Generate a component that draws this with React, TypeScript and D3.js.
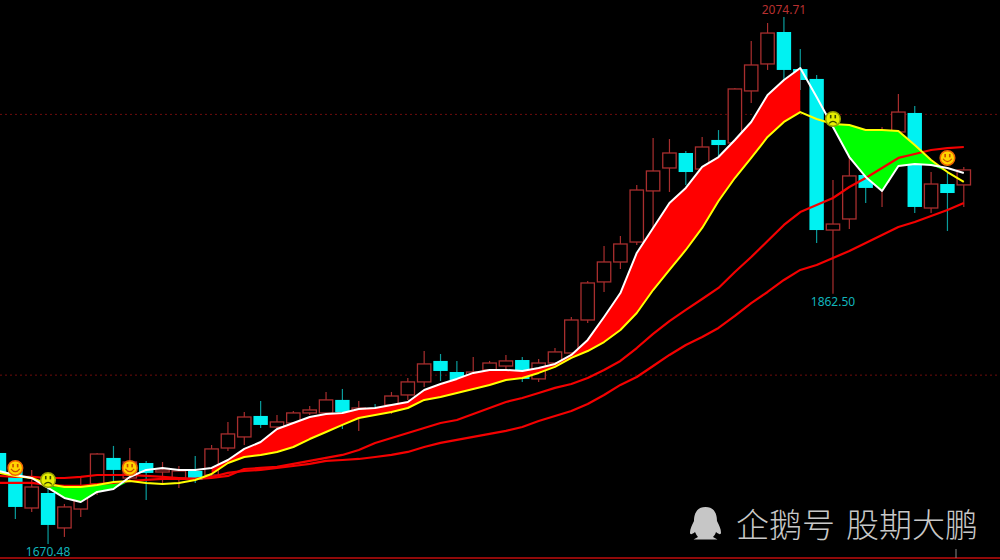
import * as d3 from "d3";

const WIDTH = 1000;
const HEIGHT = 560;

// daily candles (first one is cut by the left edge)
const OPEN = [
  1740.3, 1727.3, 1698.1, 1709.6, 1682.8, 1697.3, 1716.5, 1736.5, 1721.1, 1732.6,
  1725.7, 1721.1, 1726.5, 1723.4, 1744.1, 1752.6, 1768.7, 1760.2, 1763.3, 1771.0,
  1771.0, 1781.0, 1772.5, 1774.8, 1777.1, 1784.8, 1794.8, 1810.9, 1802.4, 1796.3,
  1804.0, 1807.0, 1811.6, 1797.1, 1809.3, 1817.0, 1842.3, 1871.5, 1886.8, 1902.1,
  1941.3, 1958.9, 1970.4, 1958.1, 1980.4, 1978.1, 2018.0, 2038.7, 2063.2, 2034.8,
  2027.2, 1911.3, 1919.8, 1953.5, 1948.2, 1986.5, 2001.1, 1928.2, 1946.6, 1945.9,
];
const CLOSE = [
  1725.0, 1698.9, 1714.2, 1685.1, 1698.9, 1711.9, 1739.5, 1727.3, 1733.4, 1725.0,
  1727.3, 1726.5, 1719.6, 1743.4, 1754.9, 1767.9, 1761.8, 1764.1, 1771.0, 1773.3,
  1781.0, 1771.7, 1774.8, 1773.3, 1784.0, 1794.8, 1808.6, 1803.2, 1796.3, 1802.4,
  1809.3, 1810.9, 1797.1, 1809.3, 1817.8, 1842.3, 1870.7, 1886.8, 1900.6, 1942.0,
  1956.6, 1970.4, 1955.8, 1975.0, 1976.5, 2019.5, 2037.9, 2062.4, 2034.1, 2026.4,
  1911.3, 1915.9, 1952.8, 1943.6, 1984.2, 2001.8, 1929.0, 1946.6, 1939.7, 1957.4,
];
const HIGH = [
  1744.1, 1731.1, 1727.3, 1719.6, 1701.2, 1721.9, 1740.3, 1745.7, 1744.1, 1734.2,
  1733.4, 1730.3, 1738.0, 1746.4, 1764.1, 1771.7, 1780.2, 1769.4, 1772.5, 1776.4,
  1787.1, 1789.4, 1780.2, 1777.9, 1787.1, 1797.8, 1818.5, 1816.2, 1810.9, 1813.9,
  1810.9, 1815.5, 1813.9, 1812.4, 1820.8, 1844.6, 1872.2, 1899.1, 1906.7, 1945.9,
  1981.9, 1981.1, 1971.9, 1982.7, 1988.0, 2020.3, 2056.3, 2070.1, 2074.71, 2050.2,
  2030.2, 1949.7, 1967.3, 1972.7, 1990.3, 2015.7, 2006.4, 1955.8, 1955.1, 1959.7,
];
const LOW = [
  1721.1, 1689.7, 1695.0, 1670.48, 1675.9, 1691.2, 1708.1, 1718.1, 1719.6, 1704.3,
  1717.3, 1713.5, 1717.3, 1721.1, 1741.8, 1746.4, 1759.5, 1759.5, 1762.5, 1769.4,
  1770.2, 1758.7, 1757.2, 1772.5, 1770.2, 1781.0, 1790.9, 1795.5, 1795.5, 1792.5,
  1803.2, 1804.0, 1794.8, 1794.8, 1808.6, 1816.2, 1840.0, 1863.8, 1881.4, 1899.8,
  1912.1, 1940.5, 1945.9, 1957.4, 1967.3, 1977.3, 2008.7, 2034.1, 2026.4, 2018.7,
  1901.4, 1862.5, 1912.1, 1932.1, 1929.0, 1985.7, 1924.4, 1924.4, 1910.6, 1929.0,
];

// moving averages
const WHITE_LINE = [
  1726.5, 1723.4, 1721.1, 1713.5, 1705.8, 1702.7, 1710.4, 1712.7, 1721.9, 1727.3,
  1728.8, 1727.3, 1727.3, 1728.8, 1734.9, 1743.4, 1748.7, 1758.7, 1763.3, 1767.9,
  1770.2, 1771.0, 1774.0, 1774.8, 1777.1, 1779.4, 1788.6, 1793.2, 1797.1, 1801.7,
  1804.0, 1804.0, 1803.2, 1805.5, 1808.6, 1815.5, 1827.0, 1844.6, 1863.0, 1893.7,
  1912.9, 1932.1, 1943.6, 1959.7, 1967.3, 1980.4, 1994.2, 2014.9, 2026.4, 2035.6,
  2013.4, 1990.3, 1967.3, 1952.0, 1941.3, 1960.4, 1962.0, 1961.2, 1958.9, 1955.1,
];
const YELLOW_LINE = [
  1725.0, 1722.7, 1721.1, 1716.5, 1714.2, 1714.2, 1715.8, 1718.1, 1718.8, 1717.3,
  1716.5, 1717.3, 1719.6, 1724.2, 1732.6, 1737.2, 1738.8, 1741.1, 1744.9, 1751.0,
  1756.4, 1761.8, 1767.1, 1769.4, 1771.7, 1774.8, 1781.0, 1783.3, 1786.3, 1789.4,
  1792.5, 1796.3, 1797.8, 1801.7, 1806.3, 1813.2, 1818.5, 1825.4, 1834.6, 1847.7,
  1865.3, 1880.7, 1896.0, 1912.9, 1933.6, 1951.2, 1966.6, 1982.7, 1994.2, 2001.8,
  1996.5, 1992.6, 1991.9, 1988.0, 1988.0, 1987.3, 1976.5, 1965.0, 1955.8, 1948.2,
];
const RED_UPPER = [
  1722.7, 1721.9, 1721.9, 1721.1, 1721.1, 1721.9, 1723.4, 1723.4, 1723.4, 1722.7,
  1721.9, 1721.1, 1720.4, 1721.1, 1722.7, 1728.0, 1728.8, 1729.6, 1731.9, 1734.2,
  1736.5, 1738.8, 1742.6, 1748.0, 1751.8, 1755.6, 1759.5, 1763.3, 1765.6, 1770.2,
  1774.8, 1779.4, 1782.5, 1786.3, 1790.2, 1793.2, 1797.8, 1804.0, 1810.9, 1820.8,
  1831.6, 1841.5, 1850.0, 1858.4, 1866.9, 1879.1, 1890.6, 1902.9, 1915.2, 1925.1,
  1930.5, 1935.9, 1944.3, 1951.2, 1958.9, 1966.6, 1969.6, 1972.7, 1974.2, 1975.0,
];
const RED_LOWER = [
  1717.3, 1717.3, 1717.3, 1715.8, 1715.0, 1715.0, 1716.5, 1717.3, 1718.8, 1719.6,
  1720.4, 1720.4, 1720.4, 1721.9, 1725.0, 1726.5, 1727.3, 1728.8, 1730.3, 1731.9,
  1734.2, 1734.9, 1735.7, 1737.2, 1738.8, 1741.1, 1744.9, 1748.0, 1750.3, 1752.6,
  1754.9, 1757.2, 1760.2, 1764.8, 1768.7, 1772.5, 1777.9, 1784.8, 1792.5, 1798.6,
  1807.0, 1815.5, 1823.1, 1829.3, 1836.2, 1845.4, 1855.3, 1863.8, 1873.0, 1880.7,
  1884.5, 1889.9, 1895.2, 1901.4, 1907.5, 1913.6, 1917.5, 1922.1, 1926.7, 1932.1,
];

// stretches of candles where the band between white and yellow is painted
const RED_SPANS = [[13, 49]];
const GREEN_SPANS = [[3, 8], [51, 58]];

const LEVELS = [2000, 1800];

const SIGNAL_INDEX = [1, 3, 8, 51, 58];
const SIGNAL_PRICE = [1728.8, 1719.6, 1728.8, 1996.5, 1966.6];
const SIGNAL_HAPPY = [true, false, true, false, true];

const EXTREME_INDEX = [48, 3, 51];
const EXTREME_PRICE = [2074.71, 1670.48, 1862.5];
const EXTREME_TEXT = ["2074.71", "1670.48", "1862.50"];

const CANDLE_RED = "#a82e2e";
const CANDLE_CYAN = "#00f2f2";
const WICK_CYAN = "#0a9c9c";

const x = d3.scaleLinear().domain([0, 59]).range([-1, 963.8]);
const y = d3.scaleLinear().domain([1670.48, 2074.71]).range([544, 17]);

const lineOf = d3
  .line<number>()
  .x((_, i) => x(i))
  .y((d) => y(d));

const indices = d3.range(OPEN.length);

function bandPath(span: number[], green: boolean) {
  const area = d3
    .area<number>()
    .x((i) => x(i))
    .y0((i) => y(YELLOW_LINE[i]))
    .y1((i) =>
      // a green stretch closes to a point where the lines cross
      green ? y(Math.min(WHITE_LINE[i], YELLOW_LINE[i])) : y(WHITE_LINE[i])
    );
  return area(d3.range(span[0], span[1] + 1)) ?? "";
}

function Smiley({ cx, cy, happy }: { cx: number; cy: number; happy: boolean }) {
  const face = happy ? "#ffd400" : "#e6f000";
  const rim = happy ? "#f06800" : "#98a200";
  const ink = happy ? "#c84c00" : "#3c4a00";
  return (
    <g transform={`translate(${cx},${cy})`}>
      <circle r={7.3} fill={face} stroke={rim} strokeWidth={1.5} />
      <rect x={-3.1} y={-4} width={1.6} height={3.4} fill={ink} />
      <rect x={1.5} y={-4} width={1.6} height={3.4} fill={ink} />
      <path
        d={happy ? "M-4.4,0.8 Q0,6.6 4.4,0.8" : "M-3.8,4.4 Q0,0.6 3.8,4.4"}
        fill="none"
        stroke={ink}
        strokeWidth={1.2}
      />
    </g>
  );
}

export default function App() {
  return (
    <svg
      width={WIDTH}
      height={HEIGHT}
      viewBox={`0 0 ${WIDTH} ${HEIGHT}`}
      style={{ position: "absolute", left: 0, top: 0, display: "block", background: "#000" }}
    >
      <rect width={WIDTH} height={HEIGHT} fill="#000" />

      {LEVELS.map((level) => (
        <line
          key={level}
          x1={0}
          x2={WIDTH}
          y1={y(level)}
          y2={y(level)}
          stroke="#6e0c0c"
          strokeWidth={1}
          strokeDasharray="2 3"
        />
      ))}

      {/* Candles */}
      {indices.map((i) => {
        const up = CLOSE[i] >= OPEN[i];
        const top = y(Math.max(OPEN[i], CLOSE[i]));
        const bottom = y(Math.min(OPEN[i], CLOSE[i]));
        const cx = x(i);
        return (
          <g key={i}>
            <line
              x1={cx}
              x2={cx}
              y1={y(HIGH[i])}
              y2={y(LOW[i])}
              stroke={up ? CANDLE_RED : WICK_CYAN}
              strokeWidth={1.2}
            />
            {up ? (
              <rect
                x={cx - 6.7}
                y={top}
                width={13.4}
                height={bottom - top}
                fill="#000"
                stroke={CANDLE_RED}
                strokeWidth={1.3}
              />
            ) : (
              <rect x={cx - 7.2} y={top} width={14.4} height={bottom - top} fill={CANDLE_CYAN} />
            )}
          </g>
        );
      })}

      {/* Band between the two fast lines */}
      {RED_SPANS.map((span) => (
        <path key={span[0]} d={bandPath(span, false)} fill="#ff0000" />
      ))}
      {GREEN_SPANS.map((span) => (
        <path key={span[0]} d={bandPath(span, true)} fill="#00ff00" />
      ))}

      <path d={lineOf(RED_LOWER) ?? ""} fill="none" stroke="#f40000" strokeWidth={2.2} strokeLinejoin="round" />
      <path d={lineOf(RED_UPPER) ?? ""} fill="none" stroke="#f40000" strokeWidth={2.2} strokeLinejoin="round" />
      <path d={lineOf(YELLOW_LINE) ?? ""} fill="none" stroke="#ffff00" strokeWidth={2} strokeLinejoin="round" />
      <path d={lineOf(WHITE_LINE) ?? ""} fill="none" stroke="#ffffff" strokeWidth={2} strokeLinejoin="round" />

      {SIGNAL_INDEX.map((idx, k) => (
        <Smiley key={idx} cx={x(idx)} cy={y(SIGNAL_PRICE[k])} happy={SIGNAL_HAPPY[k]} />
      ))}

      {/* High / low labels */}
      {EXTREME_TEXT.map((label, k) => {
        const above = k === 0;
        return (
          <text
            key={label}
            x={x(EXTREME_INDEX[k])}
            y={y(EXTREME_PRICE[k]) + (above ? -3 : 12)}
            textAnchor="middle"
            fontFamily="'Noto Sans', sans-serif"
            fontSize={12}
            fill={above ? "#b83030" : "#12b4bc"}
          >
            {label}
          </text>
        );
      })}

      {/* Bottom frame */}
      <line x1={0} x2={WIDTH} y1={558} y2={558} stroke="#c00c0c" strokeWidth={1.6} />
      <line x1={956} x2={956} y1={549} y2={558} stroke="#8a8a8a" strokeWidth={1} />

      {/* Watermark */}
      <path
        d="M705.5,507 C696,507 694,515 694,521 C692,525 690,529 690,532.5 C690,535 692,534.5 695,532 C696,534 697,536 698,537 L693.5,539.5 L717.5,539.5 L713,537 C714,536 715.5,534 716,532 C719,534.5 721,535 721,532.5 C721,529 719,525 717,521 C717,515 715,507 705.5,507 Z"
        fill="#c6c6c6"
      />
      <text
        x={736}
        y={536.5}
        fontFamily="'Noto Sans CJK SC', sans-serif"
        fontSize={33}
        fontWeight={300}
        fill="#c8c8c8"
      >
        企鹅号
      </text>
      <text
        x={846}
        y={536.5}
        fontFamily="'Noto Sans CJK SC', sans-serif"
        fontSize={33}
        fontWeight={300}
        fill="#c8c8c8"
      >
        股期大鹏
      </text>
    </svg>
  );
}
